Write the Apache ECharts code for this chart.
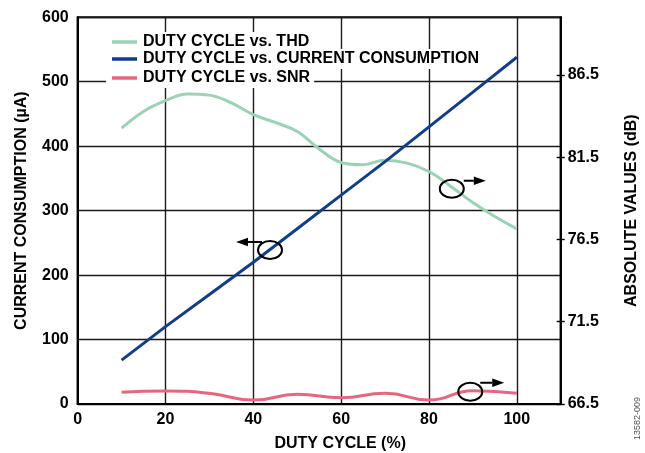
<!DOCTYPE html>
<html>
<head>
<meta charset="utf-8">
<script src="https://cdn.jsdelivr.net/npm/echarts@6/dist/echarts.min.js"></script>
<style>
html,body{margin:0;padding:0;background:#fff;}
#c{width:645px;height:453px;}
</style>
</head>
<body>
<div id="c"></div>
<script>
// ---- data ----
const currentDuty = [10, 20, 30, 40, 50, 60, 70, 80, 90, 100];
const currentUA   = [68, 120, 170, 220, 272, 324, 376, 430, 484, 538];

const thdDuty = [10, 15, 20, 25, 30, 35, 40, 45, 50, 55, 60, 65, 70, 75, 80, 85, 90, 95, 100];
const thdDB   = [83.27, 84.28, 84.93, 85.34, 85.27, 84.80, 84.08, 83.61, 83.06, 82.0, 81.18, 81.04, 81.32, 81.14, 80.63, 79.72, 78.74, 77.89, 77.14];

const snrDuty = [10, 20, 30, 40, 50, 60, 70, 80, 90, 100];
const snrDB   = [67.21, 67.29, 67.15, 66.74, 67.09, 66.88, 67.15, 66.74, 67.31, 67.15];

const rightTicks = [66.5, 71.5, 76.5, 81.5, 86.5];

const names = ['DUTY CYCLE vs. THD', 'DUTY CYCLE vs. CURRENT CONSUMPTION', 'DUTY CYCLE vs. SNR'];
const colors = ['#9bd2b6', '#123d88', '#e8657f'];

const FONT = 'Liberation Sans, Arial, Helvetica, sans-serif';
const FS = 16;
const pair = (xs, ys) => xs.map((x, i) => [x, ys[i]]);

const chart = echarts.init(document.getElementById('c'), null, {renderer: 'canvas'});

function legendRow(i, top) {
  return {
    data: [names[i]],
    left: 106, top: top,
    orient: 'horizontal',
    icon: 'rect', itemWidth: 25, itemHeight: 3.5,
    itemGap: 0,
    backgroundColor: '#fff',
    padding: [2, 4, 2, 6],
    selectedMode: false,
    textStyle: {fontFamily: FONT, fontWeight: 'bold', fontSize: FS, color: '#000', lineHeight: 16, padding: [0,0,0,1]}
  };
}

const option = {
  backgroundColor: '#fff',
  animation: false,
  textStyle: {fontFamily: FONT},
  grid: {left: 77.7, right: 84.3, top: 17.3, bottom: 49, show: true, borderColor: '#000', borderWidth: 2,
         containLabel: false, outerBoundsMode: 'none'},
  legend: [legendRow(0, 32), legendRow(1, 49), legendRow(2, 68)],
  xAxis: {
    type: 'value', min: 0, max: 110, interval: 20,
    name: 'DUTY CYCLE (%)', nameLocation: 'middle', nameGap: 32,
    nameTextStyle: {fontFamily: FONT, fontWeight: 'bold', fontSize: FS, color: '#000', padding: [0, 0, 0, 42]},
    axisLine: {show: true, lineStyle: {color: '#000', width: 2}},
    axisTick: {show: false},
    axisLabel: {fontFamily: FONT, fontWeight: 'bold', fontSize: FS, color: '#000', margin: 8, showMaxLabel: false},
    splitLine: {show: true, lineStyle: {color: '#1a1a1a', width: 1.4}}
  },
  yAxis: [
    {
      type: 'value', min: 0, max: 600, interval: 100, position: 'left',
      name: 'CURRENT CONSUMPTION (µA)', nameLocation: 'middle', nameGap: 48, nameRotate: 90,
      nameTextStyle: {fontFamily: FONT, fontWeight: 'bold', fontSize: FS, color: '#000'},
      axisLine: {show: true, lineStyle: {color: '#000', width: 2}},
      axisTick: {show: false},
      axisLabel: {fontFamily: FONT, fontWeight: 'bold', fontSize: FS, color: '#000', margin: 9},
      splitLine: {show: true, lineStyle: {color: '#1a1a1a', width: 1.4}}
    },
    {
      type: 'value', min: 66.5, max: 90, position: 'right',
      name: 'ABSOLUTE VALUES (dB)', nameLocation: 'middle', nameGap: 63, nameRotate: 90,
      nameTextStyle: {fontFamily: FONT, fontWeight: 'bold', fontSize: FS, color: '#000'},
      axisLine: {show: true, lineStyle: {color: '#000', width: 2}},
      axisTick: {show: true, length: 4, lineStyle: {color: '#000', width: 1.4}, customValues: rightTicks},
      axisLabel: {fontFamily: FONT, fontWeight: 'bold', fontSize: FS, color: '#000', margin: 7, customValues: rightTicks},
      splitLine: {show: false}
    },
    {
      type: 'value', min: 66.5, max: 90, position: 'right',
      axisLine: {show: false},
      axisTick: {show: true, inside: true, length: 4, lineStyle: {color: '#000', width: 1.4}, customValues: rightTicks},
      axisLabel: {show: false},
      splitLine: {show: false}
    }
  ],
  series: [
    {name: names[0], type: 'line', yAxisIndex: 1, data: pair(thdDuty, thdDB), smooth: 0.4, showSymbol: false,
     lineStyle: {color: colors[0], width: 3}, itemStyle: {color: colors[0]}},
    {name: names[1], type: 'line', yAxisIndex: 0, data: pair(currentDuty, currentUA), smooth: false, showSymbol: false,
     lineStyle: {color: colors[1], width: 3}, itemStyle: {color: colors[1]}},
    {name: names[2], type: 'line', yAxisIndex: 1, data: pair(snrDuty, snrDB), smooth: 0.5, showSymbol: false,
     lineStyle: {color: colors[2], width: 3}, itemStyle: {color: colors[2]}}
  ]
};
chart.setOption(option);

// annotation ellipses + arrows (anchored in data space of x / left y axis)
const annos = [
  {at: [43.8, 239], dir: -1, sx: -8, sy: -8, len: 26},
  {at: [85.2, 334], dir: 1, sx: 12, sy: -8, len: 22},
  {at: [89.4, 19], dir: 1, sx: 10, sy: -9, len: 24}
];
const g = [];
annos.forEach(a => {
  const c = chart.convertToPixel({xAxisIndex: 0, yAxisIndex: 0}, a.at);
  g.push({type: 'ellipse', shape: {cx: c[0], cy: c[1], rx: 12, ry: 9}, style: {fill: null, stroke: '#000', lineWidth: 2}, z: 10});
  const x0 = c[0] + a.sx, y0 = c[1] + a.sy;
  const tip = x0 + a.dir * a.len;
  const base = tip - a.dir * 12;
  g.push({type: 'line', shape: {x1: x0, y1: y0, x2: base, y2: y0}, style: {stroke: '#000', lineWidth: 2}, z: 10});
  g.push({type: 'polygon', shape: {points: [[tip, y0], [base, y0 - 4.2], [base, y0 + 4.2]]}, style: {fill: '#000'}, z: 10});
});
g.push({type: 'text', x: 633, y: 440, rotation: Math.PI / 2,
  style: {text: '13582-009', fill: '#555', font: '9px ' + FONT}, z: 10});
chart.setOption({graphic: g});
</script>
</body>
</html>
